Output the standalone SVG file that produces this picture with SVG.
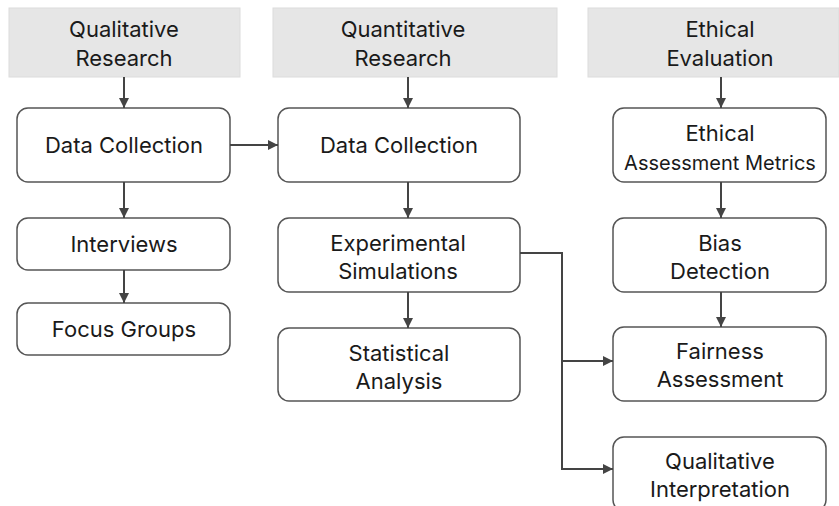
<svg xmlns="http://www.w3.org/2000/svg" width="839" height="506" viewBox="0 0 839 506">
<defs>
<marker id="ah" viewBox="0 0 10 10" refX="10" refY="5" markerWidth="10" markerHeight="10" markerUnits="userSpaceOnUse" orient="auto">
<path d="M0,0 L10,5 L0,10 Z" fill="#444"/>
</marker>
<style>
.hdr{fill:#e6e6e6;stroke:#dcdcdc;stroke-width:1}
.box{fill:#fff;stroke:#555;stroke-width:1.5}
text{font-family:Inter,"Liberation Sans",sans-serif;font-size:22px;fill:#1a1a1a;text-anchor:middle}
.sm{font-size:20px}
.c{fill:none;stroke:#444;stroke-width:2;marker-end:url(#ah)}
</style>
</defs>
<rect width="839" height="506" fill="#fff"/>
<g id="h1"><rect class="hdr" x="9" y="8" width="231" height="69"/><text x="124" y="37">Qualitative</text><text x="124" y="66">Research</text></g>
<g id="h2"><rect class="hdr" x="273" y="8" width="284" height="69"/><text x="403" y="37">Quantitative</text><text x="403" y="66">Research</text></g>
<g id="h3"><rect class="hdr" x="588" y="8" width="251" height="69"/><text x="720" y="37">Ethical</text><text x="720" y="66">Evaluation</text></g>
<g id="n1"><rect class="box" x="17" y="108" width="213" height="74" rx="11"/><text x="124" y="153">Data Collection</text></g>
<g id="n2"><rect class="box" x="17" y="218" width="213" height="52" rx="11"/><text x="124" y="252">Interviews</text></g>
<g id="n3"><rect class="box" x="17" y="303" width="213" height="52" rx="11"/><text x="124" y="337">Focus Groups</text></g>
<g id="n4"><rect class="box" x="278" y="108" width="242" height="74" rx="11"/><text x="399" y="153">Data Collection</text></g>
<g id="n5"><rect class="box" x="278" y="218" width="242" height="74" rx="11"/><text x="398" y="251">Experimental</text><text x="398" y="279">Simulations</text></g>
<g id="n6"><rect class="box" x="278" y="328" width="242" height="73" rx="11"/><text x="399" y="361">Statistical</text><text x="399" y="389">Analysis</text></g>
<g id="n7"><rect class="box" x="613" y="108" width="213" height="74" rx="11"/><text x="720" y="141">Ethical</text><text class="sm" x="720" y="170">Assessment Metrics</text></g>
<g id="n8"><rect class="box" x="613" y="218" width="213" height="74" rx="11"/><text x="720" y="251">Bias</text><text x="720" y="279">Detection</text></g>
<g id="n9"><rect class="box" x="613" y="327" width="213" height="74" rx="11"/><text x="720" y="359">Fairness</text><text x="720" y="387">Assessment</text></g>
<g id="n10"><rect class="box" x="613" y="437" width="213" height="74" rx="11"/><text x="720" y="469">Qualitative</text><text x="720" y="497">Interpretation</text></g>
<g id="connectors">
<path class="c" d="M124,77 V108"/>
<path class="c" d="M124,182 V218"/>
<path class="c" d="M124,270 V303"/>
<path class="c" d="M230,145 H278"/>
<path class="c" d="M408,77 V108"/>
<path class="c" d="M408,182 V218"/>
<path class="c" d="M408,292 V328"/>
<path class="c" d="M721,77 V108"/>
<path class="c" d="M721,182 V218"/>
<path class="c" d="M721,292 V327"/>
<path class="c" d="M520,253 H562 V469 H613"/>
<path class="c" d="M562,361 H613"/>
</g>
</svg>
